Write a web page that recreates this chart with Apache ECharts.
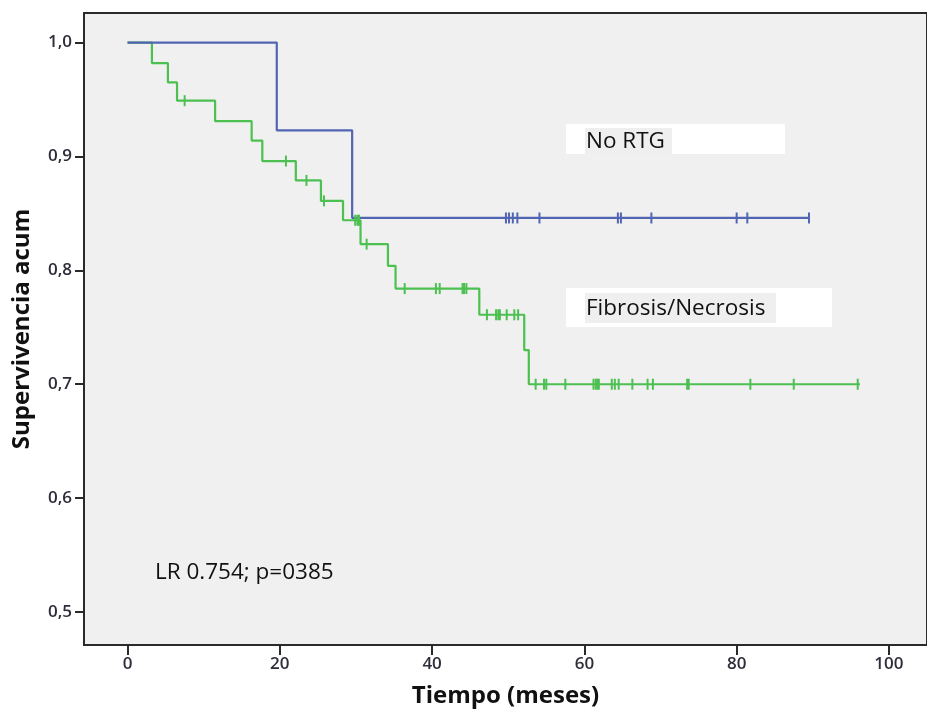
<!DOCTYPE html>
<html>
<head>
<meta charset="utf-8">
<script src="https://cdn.jsdelivr.net/npm/echarts@6/dist/echarts.min.js"></script>
<style>
  html, body { margin: 0; padding: 0; background: #ffffff; }
  #chart { width: 927px; height: 713px; }
</style>
</head>
<body>
<div id="chart"></div>
<script>
// ---- Data ----
const xTicks = [0, 20, 40, 60, 80, 100];
const yTicks = [0.5, 0.6, 0.7, 0.8, 0.9, 1.0];

// No RTG
const noRtgEventTimes = [19.6, 29.5];
const noRtgSurvival = [0.923, 0.846];
const noRtgCensored = [49.7, 50.1, 50.6, 51.2, 54.1, 64.4, 64.8, 68.8, 80.0, 81.4, 89.5];
const noRtgEnd = 89.5;

// Fibrosis/Necrosis
const fibEventTimes = [3.2, 5.3, 6.5, 11.5, 16.3, 17.7, 22.1, 25.4, 28.3, 30.6, 34.2, 35.2, 46.2, 52.1, 52.7];
const fibSurvival = [0.982, 0.965, 0.949, 0.931, 0.914, 0.896, 0.879, 0.861, 0.844, 0.823, 0.804, 0.784, 0.761, 0.730, 0.700];
const fibCensored = [7.5, 20.8, 23.5, 25.8, 29.9, 30.2, 30.4, 31.4, 36.4, 40.5, 41.0, 44.0, 44.2, 44.5,
  47.2, 48.4, 48.7, 48.9, 49.8, 50.8, 51.3, 53.6, 54.7, 55.0, 57.5, 61.2, 61.5, 61.7, 61.9,
  63.6, 64.0, 64.5, 66.3, 68.3, 69.0, 73.5, 73.7, 81.8, 87.5, 95.9];
const fibEnd = 96.2;

const labelNoRtg = 'No RTG';
const labelFib = 'Fibrosis/Necrosis';
const statText = 'LR 0.754; p=0385';

// ---- Helpers ----
function stepLine(times, surv, end) {
  const pts = [[0, 1.0]];
  for (let i = 0; i < times.length; i++) pts.push([times[i], surv[i]]);
  pts.push([end, surv[surv.length - 1]]);
  return pts;
}
function survAt(times, surv, t) {
  let s = 1.0;
  for (let i = 0; i < times.length; i++) if (times[i] <= t) s = surv[i];
  return s;
}
function censorPts(times, surv, cens) {
  return cens.map(t => [t, survAt(times, surv, t)]);
}

const BLUE = '#5265b3';
const GREEN = '#4cc050';

const chart = echarts.init(document.getElementById('chart'), null, { renderer: 'canvas' });

const option = {
  animation: false,
  backgroundColor: '#ffffff',
  grid: {
    left: 84, top: 13, right: -8.5, bottom: 66,
    show: true,
    backgroundColor: '#f0f0f0',
    borderColor: '#2a2a2a',
    borderWidth: 2
  },
  xAxis: {
    type: 'value',
    min: -5.72, max: 105,
    name: 'Tiempo (meses)',
    nameLocation: 'middle',
    nameGap: 39,
    nameTextStyle: { fontFamily: 'Open Sans', fontSize: 24, fontWeight: 'bold', color: '#111' },
    axisLine: { show: false, onZero: false },
    splitLine: { show: false },
    axisTick: { show: true, length: 10, customValues: xTicks, lineStyle: { color: '#2a2a2a', width: 2 } },
    axisLabel: { show: true, customValues: xTicks, margin: 11, fontFamily: 'Open Sans', fontSize: 17, fontWeight: 600, color: '#2e2e3a' }
  },
  yAxis: {
    type: 'value',
    min: 0.471, max: 1.026,
    name: 'Supervivencia acum',
    nameLocation: 'middle',
    nameGap: 50,
    nameTextStyle: { fontFamily: 'Open Sans', fontSize: 24, fontWeight: 'bold', color: '#111' },
    axisLine: { show: false, onZero: false },
    splitLine: { show: false },
    axisTick: { show: true, length: 9, customValues: yTicks, lineStyle: { color: '#2a2a2a', width: 2 } },
    axisLabel: {
      show: true, customValues: yTicks, margin: 12,
      fontFamily: 'Open Sans', fontSize: 17, fontWeight: 600, color: '#2e2e3a',
      formatter: v => v.toFixed(1).replace('.', ',')
    }
  },
  series: [
    {
      name: labelFib, type: 'line', step: 'end', showSymbol: false,
      data: stepLine(fibEventTimes, fibSurvival, fibEnd),
      lineStyle: { color: GREEN, width: 2.2 }, itemStyle: { color: GREEN }, z: 2
    },
    {
      name: labelNoRtg, type: 'line', step: 'end', showSymbol: false,
      data: stepLine(noRtgEventTimes, noRtgSurvival, noRtgEnd),
      lineStyle: { color: BLUE, width: 2.2 }, itemStyle: { color: BLUE }, z: 3
    },
    {
      name: labelFib + ' censurado', type: 'scatter', symbol: 'rect', symbolSize: [2, 11],
      data: censorPts(fibEventTimes, fibSurvival, fibCensored),
      itemStyle: { color: GREEN, opacity: 1 }, z: 4
    },
    {
      name: labelNoRtg + ' censurado', type: 'scatter', symbol: 'rect', symbolSize: [2, 11],
      data: censorPts(noRtgEventTimes, noRtgSurvival, noRtgCensored),
      itemStyle: { color: BLUE, opacity: 1 }, z: 4
    }
  ],
  graphic: [
    { type: 'rect', shape: { x: 566, y: 124, width: 219, height: 30 }, style: { fill: '#ffffff' }, z: 10 },
    { type: 'rect', shape: { x: 585, y: 128, width: 87, height: 26 }, style: { fill: '#efefef' }, z: 11 },
    { type: 'text', x: 586, y: 142, style: { text: labelNoRtg, fontFamily: 'Open Sans', fontSize: 22.5, fill: '#111', verticalAlign: 'middle' }, z: 12 },
    { type: 'rect', shape: { x: 566, y: 288, width: 266, height: 39 }, style: { fill: '#ffffff' }, z: 10 },
    { type: 'rect', shape: { x: 585, y: 293, width: 191, height: 30 }, style: { fill: '#efefef' }, z: 11 },
    { type: 'text', x: 586, y: 309, style: { text: labelFib, fontFamily: 'Open Sans', fontSize: 22.5, fill: '#111', verticalAlign: 'middle' }, z: 12 },
    { type: 'text', x: 155, y: 573, style: { text: statText, fontFamily: 'Open Sans', fontSize: 22.5, fill: '#111', verticalAlign: 'middle' }, z: 12 }
  ]
};

chart.setOption(option);
</script>
</body>
</html>
